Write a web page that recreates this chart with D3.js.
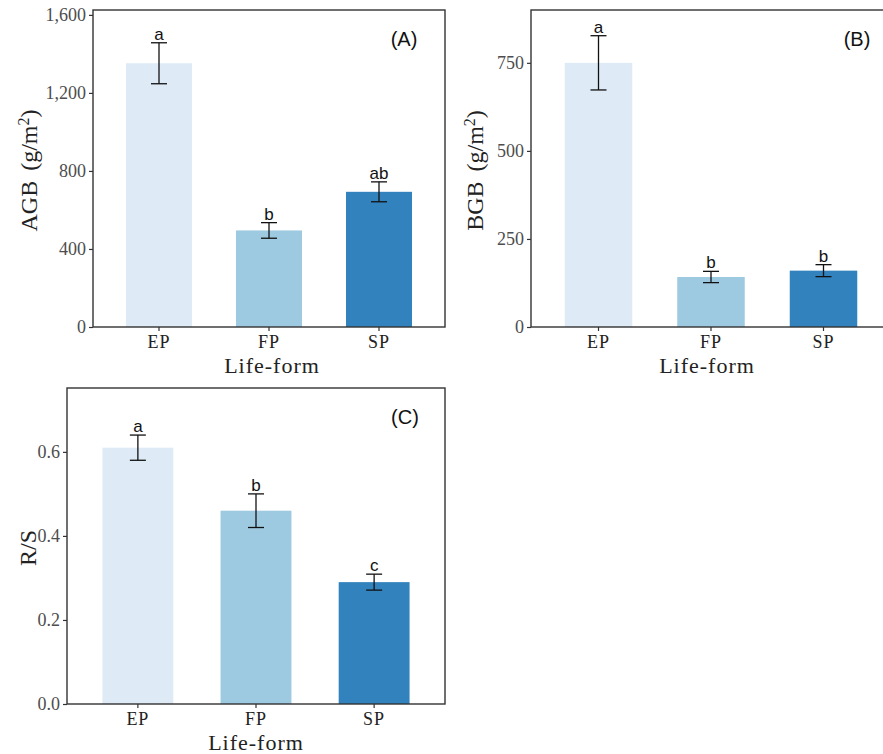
<!DOCTYPE html>
<html>
<head>
<meta charset="utf-8">
<script src="https://cdn.jsdelivr.net/npm/d3@7"></script>
<style>
  body { margin: 0; background: #fff; }
  svg { display: block; }
</style>
</head>
<body>
<div id="chart"></div>
<script>
// life-forms and bar colours
var lifeForms = ["EP", "FP", "SP"];
var barColors = ["#deebf7", "#9ecae1", "#3182bd"];

// (A) above-ground biomass
var agbMean = [1352, 495, 693];
var agbSe = [105, 40, 51];
var agbLetters = ["a", "b", "ab"];
var agbTicks = [0, 400, 800, 1200, 1600];

// (B) below-ground biomass
var bgbMean = [750, 142, 160];
var bgbSe = [77, 16, 17];
var bgbLetters = ["a", "b", "b"];
var bgbTicks = [0, 250, 500, 750];

// (C) root/shoot ratio
var rsMean = [0.61, 0.46, 0.29];
var rsSe = [0.03, 0.04, 0.019];
var rsLetters = ["a", "b", "c"];
var rsTicks = [0, 0.2, 0.4, 0.6];

var serif = "'Liberation Serif', 'Times New Roman', serif";
var sans = "'Liberation Sans', Arial, sans-serif";

var svg = d3.select("#chart").append("svg")
    .attr("width", 883)
    .attr("height", 754);

function drawPanel(p) {
    var g = svg.append("g");

    var x = d3.scaleBand()
        .domain(lifeForms)
        .range([p.left, p.right])
        .paddingInner(0.4)
        .paddingOuter(0.3);

    var y = d3.scaleLinear()
        .domain([0, p.yMax])
        .range([p.bottom, p.top]);

    var rows = lifeForms.map(function (d, i) {
        return {name: d, mean: p.mean[i], se: p.se[i], letter: p.letters[i], color: barColors[i]};
    });

    // bars
    g.selectAll(".bar")
        .data(rows)
        .enter()
        .append("rect")
        .attr("class", "bar")
        .attr("x", function (d) { return x(d.name); })
        .attr("width", x.bandwidth())
        .attr("y", function (d) { return y(d.mean); })
        .attr("height", function (d) { return y(0) - y(d.mean); })
        .style("fill", function (d) { return d.color; });

    // error bars
    var cap = 8;
    var err = g.selectAll(".err")
        .data(rows)
        .enter()
        .append("g")
        .attr("class", "err")
        .attr("transform", function (d) { return "translate(" + (x(d.name) + x.bandwidth() / 2) + ",0)"; })
        .style("stroke", "#111")
        .style("stroke-width", 1.3);
    err.append("line")
        .attr("x1", 0).attr("x2", 0)
        .attr("y1", function (d) { return y(d.mean + d.se); })
        .attr("y2", function (d) { return y(d.mean - d.se); });
    err.append("line")
        .attr("x1", -cap).attr("x2", cap)
        .attr("y1", function (d) { return y(d.mean + d.se); })
        .attr("y2", function (d) { return y(d.mean + d.se); });
    err.append("line")
        .attr("x1", -cap).attr("x2", cap)
        .attr("y1", function (d) { return y(d.mean - d.se); })
        .attr("y2", function (d) { return y(d.mean - d.se); });

    // significance letters
    g.selectAll(".letter")
        .data(rows)
        .enter()
        .append("text")
        .attr("class", "letter")
        .attr("x", function (d) { return x(d.name) + x.bandwidth() / 2; })
        .attr("y", function (d) { return y(d.mean + d.se) - 3; })
        .attr("text-anchor", "middle")
        .style("font-family", sans)
        .style("font-size", "17px")
        .style("fill", "#111")
        .text(function (d) { return d.letter; });

    // axes
    var yAxis = d3.axisLeft(y)
        .tickValues(p.ticks)
        .tickFormat(p.format)
        .tickSize(4)
        .tickPadding(3);
    var gy = g.append("g")
        .attr("transform", "translate(" + p.left + ",0)")
        .call(yAxis);

    var xAxis = d3.axisBottom(x)
        .tickSize(4)
        .tickPadding(4);
    var gx = g.append("g")
        .attr("transform", "translate(0," + p.bottom + ")")
        .call(xAxis);

    [gy, gx].forEach(function (a) {
        a.select(".domain").remove();
        a.selectAll(".tick line").style("stroke", "#333").style("stroke-width", 1.2);
        a.selectAll(".tick text")
            .style("font-family", serif)
            .style("font-size", "18px")
            .style("fill", "#4d4d4d");
    });
    gx.selectAll(".tick text")
        .style("fill", "#222")
        .style("letter-spacing", "1px");

    // panel border
    g.append("rect")
        .attr("x", p.left)
        .attr("y", p.top)
        .attr("width", p.right - p.left)
        .attr("height", p.bottom - p.top)
        .style("fill", "none")
        .style("stroke", "#333")
        .style("stroke-width", 1.4);

    // x title
    g.append("text")
        .attr("x", (p.left + Math.min(p.right, 883)) / 2 + p.xTitleShift)
        .attr("y", p.bottom + 46)
        .attr("text-anchor", "middle")
        .style("font-family", serif)
        .style("font-size", "22px")
        .style("letter-spacing", "1px")
        .style("fill", "#222")
        .text("Life-form");

    // y title
    var yt = g.append("text")
        .attr("transform", "translate(" + p.yTitleX + "," + ((p.top + p.bottom) / 2 + 2) + ") rotate(-90)")
        .attr("text-anchor", "middle")
        .style("font-family", serif)
        .style("font-size", "24px")
        .style("fill", "#222");
    yt.append("tspan").text(p.yTitle);
    if (p.unit) {
        yt.append("tspan").attr("dx", 10).text("(g/m");
        yt.append("tspan").attr("baseline-shift", "super").style("font-size", "16px").text("2");
        yt.append("tspan").text(")");
    }

    // panel label
    g.append("text")
        .attr("x", p.labelX)
        .attr("y", p.top + 36)
        .attr("text-anchor", "middle")
        .style("font-family", sans)
        .style("font-size", "20px")
        .style("fill", "#111")
        .text(p.label);
}

drawPanel({
    left: 93, right: 445, top: 10, bottom: 327, yMax: 1625,
    mean: agbMean, se: agbSe, letters: agbLetters, ticks: agbTicks,
    format: d3.format(","), yTitle: "AGB", unit: true, yTitleX: 37,
    label: "(A)", labelX: 404, xTitleShift: 3
});

drawPanel({
    left: 531, right: 891, top: 10, bottom: 327, yMax: 900,
    mean: bgbMean, se: bgbSe, letters: bgbLetters, ticks: bgbTicks,
    format: d3.format("d"), yTitle: "BGB", unit: true, yTitleX: 483,
    label: "(B)", labelX: 857, xTitleShift: 0
});

drawPanel({
    left: 67, right: 445, top: 388, bottom: 704, yMax: 0.752,
    mean: rsMean, se: rsSe, letters: rsLetters, ticks: rsTicks,
    format: d3.format(".1f"), yTitle: "R/S", unit: false, yTitleX: 36,
    label: "(C)", labelX: 405, xTitleShift: 0
});
</script>
</body>
</html>
